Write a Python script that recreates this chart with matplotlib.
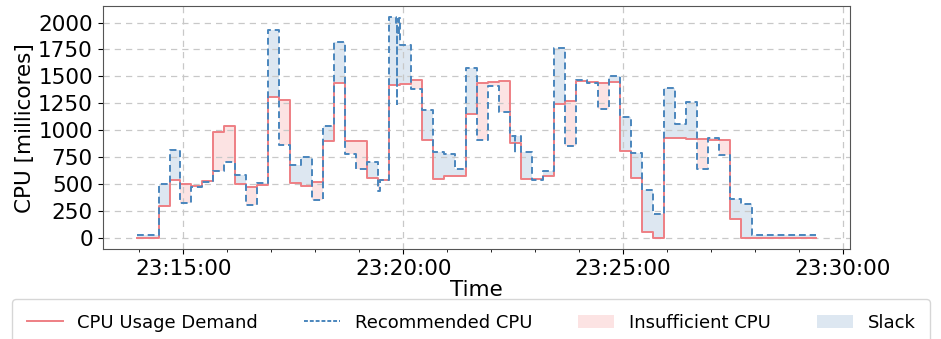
import numpy as np
import pandas as pd
import matplotlib
matplotlib.use("Agg")
import matplotlib.pyplot as plt
import matplotlib.dates as mdates
from matplotlib.lines import Line2D
from matplotlib.patches import Patch

# Sample times in seconds after 23:13:56 (15 s sampling, plus a few short spikes)
t_sec = [0, 15, 30, 45, 60, 75, 90, 105, 120, 135, 150, 165, 180, 195, 210, 225,
         240, 255, 270, 285, 300, 315, 330, 332, 345, 354, 355, 356, 357, 358, 359,
         360, 375, 390, 405, 420, 435, 450, 465, 480, 495, 510, 516, 517, 525, 540,
         555, 570, 585, 600, 615, 630, 645, 660, 675, 690, 705, 720, 735, 750, 765,
         780, 795, 810, 825, 840, 855, 870, 885, 900, 927]

# CPU usage demand (millicores)
demand = [0, 0, 300, 540, 500, 480, 530, 980, 1040, 500, 475, 497, 1310, 1285, 510,
          480, 520, 905, 1440, 900, 900, 560, 540, 540, 1420, 1420, 1420, 1420, 1420,
          1420, 1420, 1430, 1470, 910, 545, 580, 580, 1150, 1440, 1450, 1460, 880, 880,
          880, 550, 550, 580, 1240, 1270, 1460, 1445, 1440, 1450, 807, 560, 53, 5, 930,
          928, 922, 916, 910, 910, 177, 0, 0, 0, 0, 0, 0, 0]

# Recommended CPU (millicores)
recommended = [25, 25, 500, 820, 325, 475, 520, 620, 705, 590, 310, 510, 1930, 860,
               675, 755, 350, 1040, 1815, 785, 640, 710, 440, 535, 2050, 1990, 1240,
               2030, 1880, 2040, 1860, 1790, 1380, 1190, 800, 780, 640, 1575, 910, 1415,
               1170, 945, 790, 945, 800, 537, 627, 1760, 855, 1465, 1440, 1195, 1500,
               1127, 786, 450, 227, 1390, 1056, 1267, 637, 930, 767, 365, 317, 28, 28,
               28, 28, 28, 28]

start = pd.Timestamp("2023-01-01 23:13:56")
times = start + pd.to_timedelta(t_sec, unit="s")
demand = np.array(demand, dtype=float)
recommended = np.array(recommended, dtype=float)

red = "#EE7F84"
blue = "#4A86BD"
red_fill = "#FCE3E3"
blue_fill = "#DDE7F1"

fig = plt.figure(figsize=(9.41, 3.39), dpi=100)
ax = fig.add_axes([0.109, 0.265, 0.794, 0.717])

# Fill the gaps between the two step lines
ax.fill_between(times, recommended, np.maximum(demand, recommended), step="post",
                color=red_fill, linewidth=0)
ax.fill_between(times, demand, np.maximum(demand, recommended), step="post",
                color=blue_fill, linewidth=0)

ax.plot(times, demand, drawstyle="steps-post", color=red, linewidth=1.4)
ax.plot(times, recommended, drawstyle="steps-post", color=blue, linewidth=1.4,
        linestyle="--", dashes=(3.5, 2))

ax.set_yticks(np.arange(0, 2001, 250))
ax.xaxis.set_major_locator(mdates.MinuteLocator(byminute=range(0, 60, 5)))
ax.xaxis.set_minor_locator(mdates.MinuteLocator())
ax.xaxis.set_major_formatter(mdates.DateFormatter("%H:%M:%S"))
ax.tick_params(axis="both", which="major", labelsize=15.5)
ax.grid(True, which="major", linestyle=(0, (5, 4)), color="#c8c8c8", linewidth=0.9)
for s in ax.spines.values():
    s.set_color("#555555")

ax.set_xlabel("Time", fontsize=15.5, labelpad=1)
ax.set_ylabel("CPU [millicores]", fontsize=15.5, labelpad=2)

handles = [
    Line2D([], [], color=red, linewidth=1.4),
    Line2D([], [], color=blue, linewidth=1.4, linestyle="--", dashes=(2, 1)),
    Patch(facecolor=red_fill, edgecolor="none"),
    Patch(facecolor=blue_fill, edgecolor="none"),
]
labels = ["CPU Usage Demand", "Recommended CPU", "Insufficient CPU", "Slack"]
fig.legend(handles, labels, loc="upper left", ncol=4, mode="expand",
           bbox_to_anchor=(0.013, 0.0, 0.975, 0.117), fontsize=13, frameon=True,
           borderaxespad=0.0, borderpad=0.8, handlelength=2.0)

fig.savefig("out.png", dpi=100)
